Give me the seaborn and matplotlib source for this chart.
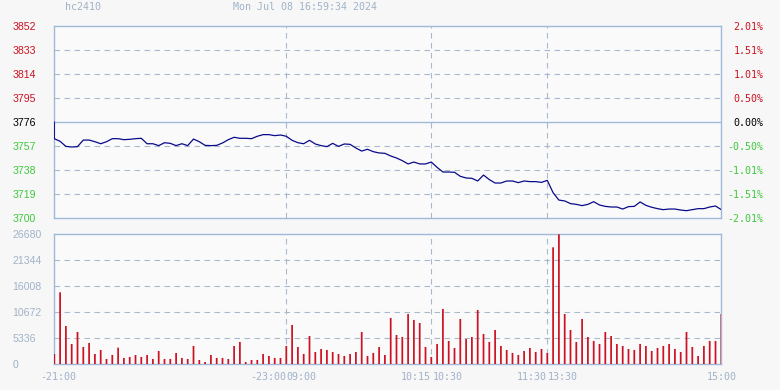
import numpy as np
import pandas as pd
import matplotlib
matplotlib.use("Agg")
import matplotlib.pyplot as plt
import seaborn as sns

# ---------------- data ----------------
symbol = "hc2410"
timestamp = "Mon Jul 08 16:59:34 2024"
prev_close = 3776

price_left_ticks = [3852, 3833, 3814, 3795, 3776, 3757, 3738, 3719, 3700]
pct_labels = ["2.01%", "1.51%", "1.01%", "0.50%", "0.00%", "-0.50%", "-1.01%", "-1.51%", "-2.01%"]
vol_ticks = [0, 5336, 10672, 16008, 21344, 26680]
session_breaks = [120, 195, 255]          # minutes since 21:00 (trading time)

volume = [2120, 14775, 7866, 4172, 6635, 3557, 4378, 2120, 2941, 1094,
          1915, 3420, 1300, 1505, 1915, 1505, 1915, 1094, 2736, 1094,
          1094, 2326, 1300, 1094, 3762, 889, 479, 1915, 1300, 1300,
          1094, 3762, 4583, 479, 889, 889, 2120, 1710, 1300, 1300,
          3762, 8071, 3557, 2120, 5814, 2531, 3146, 2941, 2531, 2120,
          1710, 2120, 2531, 6635, 1710, 2326, 3557, 1915, 9508, 6019,
          5609, 10328, 9097, 8482, 3557, 1505, 4172, 11354, 4788, 3352,
          9302, 5198, 5609, 11149, 6224, 4583, 7045, 3762, 2941, 2326,
          1915, 2736, 3352, 2531, 3146, 2326, 24008, 26680, 10328, 7045,
          4583, 9302, 5609, 4788, 4172, 6635, 5814, 4172, 3762, 3146,
          2941, 4172, 3762, 2736, 3352, 3762, 4172, 3146, 2531, 6635,
          3557, 1710, 3762, 4788, 4788, 10328]

price = [3762.8, 3760.7, 3756.7, 3756.2, 3756.5, 3761.7, 3761.7, 3760.4, 3758.8, 3760.4,
         3762.8, 3762.8, 3762.0, 3762.3, 3762.8, 3763.1, 3758.8, 3758.8, 3757.3, 3759.6,
         3759.1, 3757.3, 3758.8, 3757.3, 3762.5, 3760.4, 3757.5, 3757.3, 3757.5, 3759.4,
         3762.0, 3763.9, 3763.1, 3763.1, 3762.8, 3764.7, 3766.0, 3766.0, 3765.2, 3765.7,
         3764.7, 3761.5, 3759.6, 3758.8, 3761.5, 3758.6, 3757.3, 3756.5, 3759.1, 3756.7,
         3758.6, 3758.3, 3755.4, 3753.0, 3754.4, 3752.5, 3751.5, 3751.2, 3749.1, 3747.5,
         3745.4, 3742.8, 3744.3, 3742.8, 3742.8, 3744.3, 3740.1, 3736.4, 3736.4, 3736.2,
         3733.0, 3731.7, 3731.4, 3729.3, 3734.0, 3730.4, 3727.7, 3727.7, 3729.3, 3729.3,
         3728.0, 3729.3, 3728.8, 3728.8, 3728.2, 3729.8, 3720.0, 3714.2, 3713.5, 3711.4,
         3710.8, 3709.8, 3710.8, 3712.9, 3710.3, 3709.2, 3708.7, 3708.7, 3707.1, 3709.0,
         3709.2, 3712.7, 3710.0, 3708.5, 3707.4, 3706.6, 3707.1, 3707.1, 3706.3, 3705.8,
         3706.6, 3707.4, 3707.4, 3708.7, 3709.5, 3706.6]

# ---------------- styling ----------------
W, H = 780, 390
BG = "#f7f7f7"
AX_BG = "#fafafb"
BORDER = "#9fbad8"
GRID = "#a9b9cb"
RED = "#cc1122"
GREEN = "#3ec83e"
MUTED = "#a0b2c8"
LINE = "#0a0a8a"
MONO = "DejaVu Sans Mono"
SANS = "Liberation Sans"

sns.set_theme(style="white")
plt.rcParams["font.family"] = ["DejaVu Sans"]

step = 3
t_bars = np.arange(len(volume)) * step
vol_df = pd.DataFrame({"t": t_bars, "vol": volume})
price_df = pd.DataFrame({"t": np.concatenate([[0], np.arange(len(price)) * step]),
                         "price": [prev_close] + price})

fig = plt.figure(figsize=(W / 100, H / 100), dpi=100, facecolor=BG)

def frac(l, t, r, b):
    return [l / W, 1 - b / H, (r - l) / W, (b - t) / H]

ax1 = fig.add_axes(frac(54.3, 26, 721.3, 218))
ax2 = fig.add_axes(frac(54.3, 234.3, 721.3, 364.3))

xmax = (len(volume) - 1) * step

for ax in (ax1, ax2):
    ax.set_facecolor(AX_BG)
    for s in ax.spines.values():
        s.set_color(BORDER)
        s.set_linewidth(1.0)
    ax.set_xlim(0, xmax)
    for xb in session_breaks:
        ax.axvline(xb, color=GRID, lw=0.8, ls=(0, (5, 4)), zorder=1)

# ---------------- price panel ----------------
ymin, ymax = price_left_ticks[-1], price_left_ticks[0]
ax1.set_ylim(ymin, ymax)
for yv in price_left_ticks[1:-1]:
    if yv == prev_close:
        ax1.axhline(yv, color=BORDER, lw=1.0, zorder=1)
    else:
        ax1.axhline(yv, color=GRID, lw=0.8, ls=(0, (5, 4)), zorder=1)

sns.lineplot(data=price_df, x="t", y="price", ax=ax1, color=LINE, lw=0.9,
             estimator=None, sort=False, zorder=3)
ax1.set_xlabel("")
ax1.set_ylabel("")
ax1.set_xticks([])

ax1.set_yticks(price_left_ticks)
ax1.set_yticklabels([str(v) for v in price_left_ticks])
ax1.tick_params(axis="y", length=0, pad=30.2, labelsize=7.6)
for lbl, v in zip(ax1.get_yticklabels(), price_left_ticks):
    lbl.set_horizontalalignment("left")
    lbl.set_fontfamily(SANS)
    lbl.set_color(RED if v > prev_close else ("black" if v == prev_close else GREEN))

ax1r = ax1.twinx()
ax1r.set_ylim(ymin, ymax)
ax1r.set_yticks(price_left_ticks)
ax1r.set_yticklabels(pct_labels)
ax1r.tick_params(axis="y", length=0, pad=30.5, labelsize=7.2)
for s in ax1r.spines.values():
    s.set_visible(False)
for lbl, v in zip(ax1r.get_yticklabels(), price_left_ticks):
    lbl.set_horizontalalignment("right")
    lbl.set_fontfamily(MONO)
    lbl.set_color(RED if v > prev_close else ("black" if v == prev_close else GREEN))

# ---------------- volume panel ----------------
ax2.set_ylim(0, vol_ticks[-1])
for yv in vol_ticks[1:-1]:
    ax2.axhline(yv, color=GRID, lw=0.8, ls=(0, (5, 4)), zorder=1)

sns.barplot(data=vol_df, x="t", y="vol", ax=ax2, native_scale=True,
            color=RED, width=0.3, linewidth=0, snap=False,
            saturation=1, errorbar=None, zorder=3)
ax2.set_xlim(0, xmax)
ax2.set_ylim(0, vol_ticks[-1])
ax2.set_xlabel("")
ax2.set_ylabel("")
ax2.set_yticks(vol_ticks)
ax2.set_yticklabels([str(v) for v in vol_ticks])
ax2.tick_params(axis="y", length=0, pad=30.2, labelsize=7.6, labelcolor=MUTED)
for lbl in ax2.get_yticklabels():
    lbl.set_horizontalalignment("left")
    lbl.set_fontfamily(SANS)
ax2.set_xticks([])

# time labels under volume panel
lbl_y = -0.095
trans = ax2.get_xaxis_transform()
tkw = dict(transform=trans, fontsize=7.2, family=MONO, color=MUTED, va="center")
ax2.text(0 + 4 * 0.5, lbl_y, "-21:00", ha="center", **tkw)
ax2.text(session_breaks[0], lbl_y, "-23:00", ha="right", **tkw)
ax2.text(session_breaks[0], lbl_y, "09:00", ha="left", **tkw)
ax2.text(session_breaks[1] - 0.3, lbl_y, "10:15", ha="right", **tkw)
ax2.text(session_breaks[1] + 0.8, lbl_y, "10:30", ha="left", **tkw)
ax2.text(session_breaks[2] - 0.3, lbl_y, "11:30", ha="right", **tkw)
ax2.text(session_breaks[2] + 0.3, lbl_y, "13:30", ha="left", **tkw)
ax2.text(xmax, lbl_y, "15:00", ha="center", **tkw)

# header
fig.text(65 / W, 1 - 7.5 / H, symbol, fontsize=7.2, family=MONO, color=MUTED,
         ha="left", va="center")
fig.text(233 / W, 1 - 7.5 / H, timestamp, fontsize=7.2, family=MONO, color=MUTED,
         ha="left", va="center")

fig.savefig("out.png", dpi=100, facecolor=BG)
